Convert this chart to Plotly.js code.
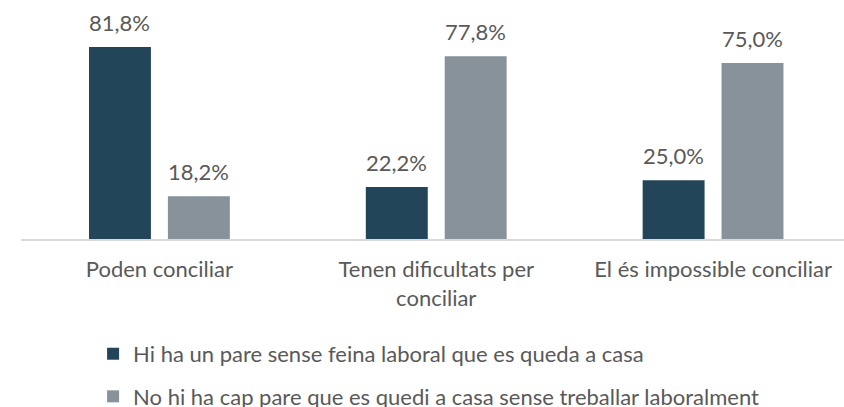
<!DOCTYPE html>
<html>
<head>
<meta charset="utf-8">
<script src="https://cdn.plot.ly/plotly-3.0.1.min.js"></script>
<style>html,body{margin:0;padding:0;background:#fff;}#chart{width:844px;height:407px;}</style>
</head>
<body>
<div id="chart"></div>
<script>
const categories = ["Poden conciliar", "Tenen dificultats per<br>conciliar", "El és impossible conciliar"];
const seriesNames = ["Hi ha un pare sense feina laboral que es queda a casa", "No hi ha cap pare que es quedi a casa sense treballar laboralment"];
const seriesA = [81.8, 22.2, 25.0];
const seriesB = [18.2, 77.8, 75.0];
const colors = ["#23455a", "#87929b"];

function fmt(v){ return v.toFixed(1).replace('.', ',') + '%'; }

const font = "Lato, 'Open Sans', sans-serif";
const W = 844, H = 407;
const margin = {l: 21, r: 0, t: 0, b: 168, autoexpand: false};
const xRange = [-0.5, 2.473];
const bargap = 0.43;
const unitPx = (W - margin.l - margin.r) / (xRange[1] - xRange[0]);
const slotPx = unitPx * (1 - bargap) / 2;

const allSeries = [seriesA, seriesB];
const traces = allSeries.map((vals, i) => ({
  type: 'bar',
  x: categories,
  y: vals,
  name: seriesNames[i],
  legendgroup: 'g' + i,
  marker: {color: colors[i]},
  hoverinfo: 'none'
}));

const annotations = [];
allSeries.forEach((vals, i) => {
  vals.forEach((v, j) => {
    annotations.push({
      x: categories[j], y: v, xref: 'x', yref: 'y',
      text: fmt(v), showarrow: false,
      xanchor: 'center', yanchor: 'bottom',
      xshift: (i - 0.5) * slotPx, yshift: 9,
      font: {family: font, size: 22, color: '#595959'}
    });
  });
});

const layout = {
  width: W, height: H,
  margin: margin,
  paper_bgcolor: '#fff', plot_bgcolor: '#fff',
  barmode: 'group',
  bargap: bargap,
  bargroupgap: 0.215,
  showlegend: true,
  annotations: annotations,
  legend: {
    orientation: 'v', x: 0.0876, xanchor: 'left', y: -0.393, yanchor: 'top',
    font: {family: font, size: 22, color: '#595959'},
    tracegroupgap: 11,
    traceorder: 'grouped'
  },
  xaxis: {
    range: xRange,
    showline: true, linecolor: '#d9d9d9', linewidth: 2,
    ticks: '', showgrid: false, zeroline: false,
    ticklabelstandoff: 10,
    tickfont: {family: font, size: 22, color: '#595959'},
    fixedrange: true
  },
  yaxis: {
    range: [0, 101.8],
    showticklabels: false, showgrid: false, zeroline: false, showline: false,
    fixedrange: true
  }
};

Plotly.newPlot('chart', traces, layout, {displayModeBar: false, staticPlot: true});
</script>
</body>
</html>
